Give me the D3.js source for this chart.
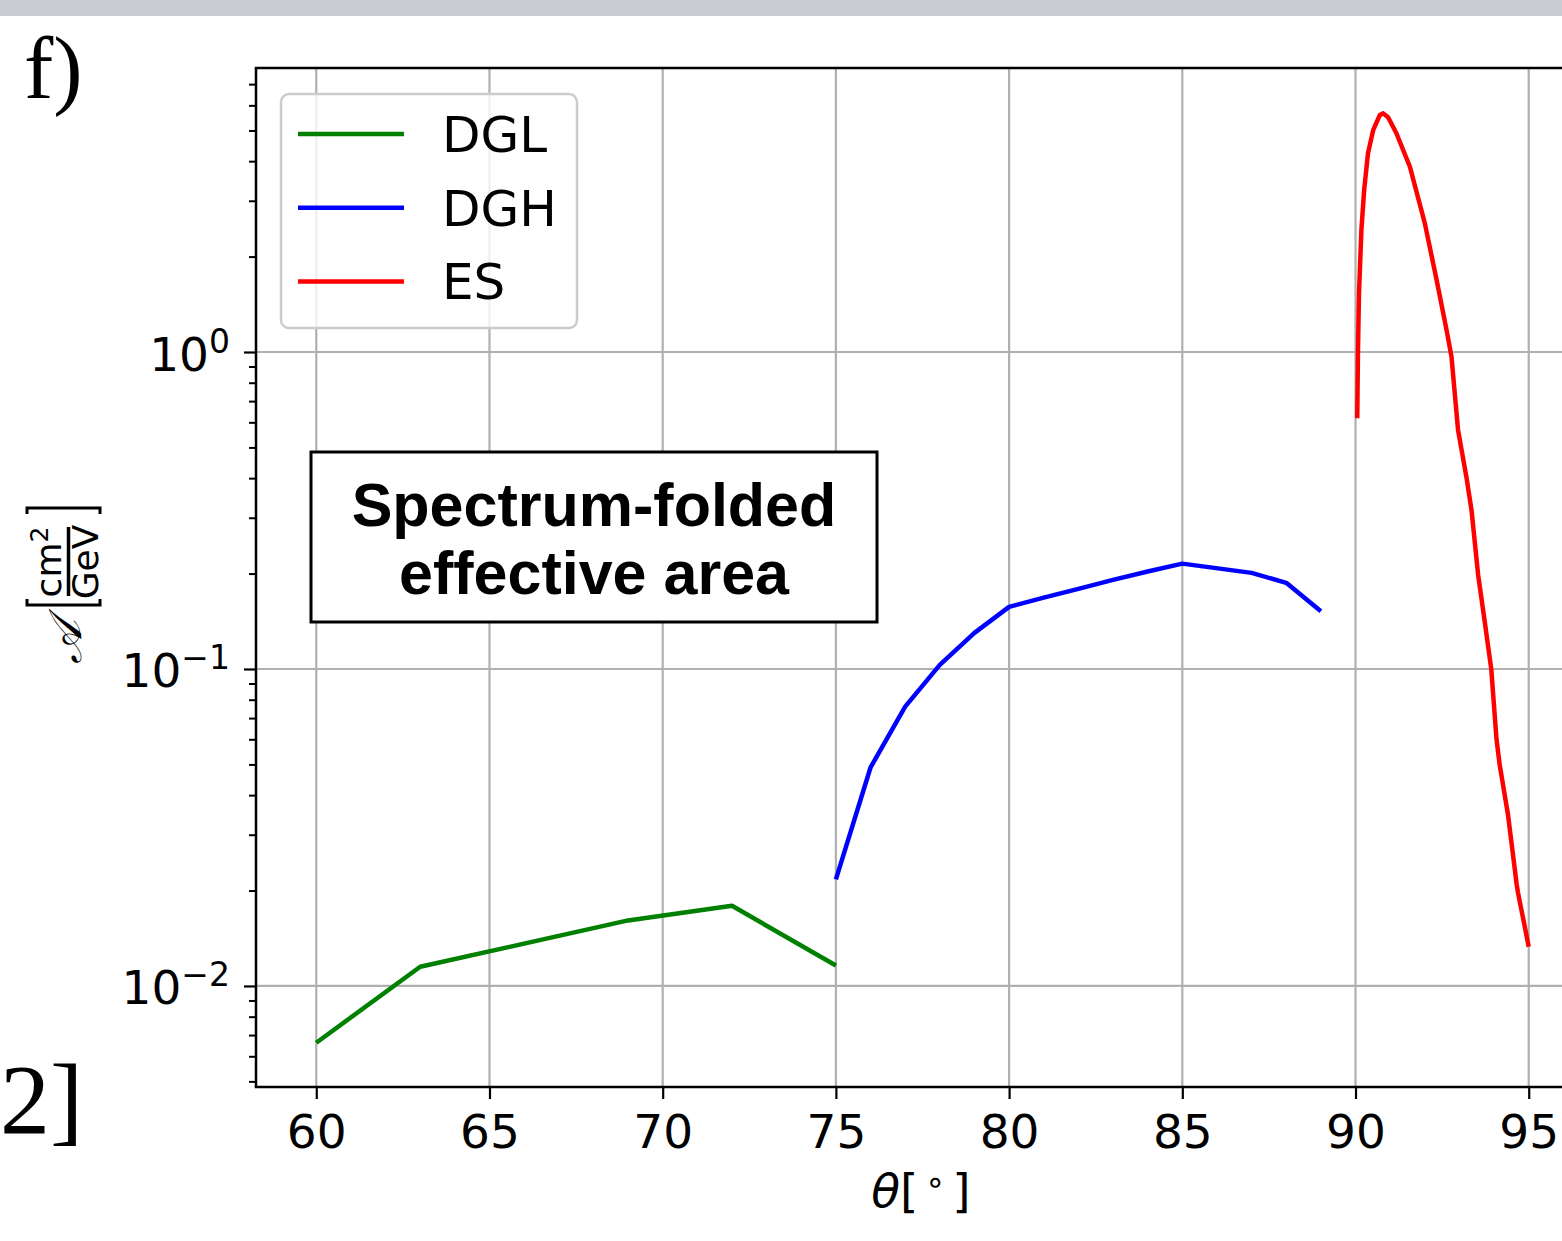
<!DOCTYPE html>
<html lang="en">
<head>
  <meta charset="UTF-8">
  <title>Spectrum-folded effective area</title>
  <script src="https://d3js.org/d3.v7.min.js"></script>
  <style>
    body { margin: 0; background: #fff; }
    svg { display: block; }
    .tick text { font-family: "DejaVu Sans", sans-serif; }
    .grid line { stroke: #b0b0b0; stroke-width: 2.2; }
  </style>
</head>
<body>
  <svg width="1562" height="1241"></svg>
  <script>
    // theta in degrees, effective area in cm^2/GeV
    const dglTheta = [60, 63, 66, 69, 72, 75];
    const dglArea  = [0.00662, 0.0115, 0.0136, 0.0161, 0.0179, 0.0116];

    const dghTheta = [75, 76, 77, 78, 79, 80, 81, 82, 83, 84, 85, 87, 88, 89];
    const dghArea  = [0.0217, 0.0489, 0.0761, 0.103, 0.130, 0.157, 0.168, 0.179, 0.191, 0.203, 0.215, 0.201, 0.187, 0.152];

    const esTheta = [90.05, 90.07, 90.10, 90.17, 90.25, 90.36, 90.51, 90.70, 90.80, 90.94, 91.18, 91.57, 92.0,
                     92.34, 92.63, 92.77, 92.96, 93.20, 93.35, 93.54, 93.73, 93.92, 94.07, 94.16, 94.40, 94.65, 94.69, 95.0];
    const esArea  = [0.618, 0.993, 1.53, 2.43, 3.25, 4.24, 5.01, 5.59, 5.66, 5.50, 4.90, 3.84, 2.55,
                     1.69, 1.17, 0.967, 0.567, 0.404, 0.316, 0.198, 0.141, 0.0996, 0.060, 0.050, 0.0348, 0.0210, 0.0197, 0.0133];

    const seriesNames  = ["DGL", "DGH", "ES"];
    const seriesColors = ["#008000", "#0000ff", "#ff0000"];
    const xTicks = [60, 65, 70, 75, 80, 85, 90, 95];
    const yTicks = [1e-2, 1e-1, 1e0];
    const yTickExp = ["\u22122", "\u22121", "0"];

    const series = [
      { name: seriesNames[0], color: seriesColors[0], pts: dglTheta.map((t, i) => [t, dglArea[i]]) },
      { name: seriesNames[1], color: seriesColors[1], pts: dghTheta.map((t, i) => [t, dghArea[i]]) },
      { name: seriesNames[2], color: seriesColors[2], pts: esTheta.map((t, i) => [t, esArea[i]]) }
    ];

    const svg = d3.select("svg");
    const plotL = 256, plotT = 68, plotB = 1087, plotR = 1589;

    const x = d3.scaleLinear().domain([58.26, 96.74]).range([plotL, plotR]);
    const y = d3.scaleLog().domain([0.0048, 7.87]).range([plotB, plotT]);

    // top grey strip
    svg.append("rect").attr("x", 0).attr("y", 0).attr("width", 1562).attr("height", 16).attr("fill", "#c9cdd1");

    // grid
    const grid = svg.append("g").attr("class", "grid");
    grid.selectAll(".gx").data(xTicks).enter().append("line")
      .attr("x1", d => x(d)).attr("x2", d => x(d)).attr("y1", plotT).attr("y2", plotB);
    grid.selectAll(".gy").data(yTicks).enter().append("line")
      .attr("x1", plotL).attr("x2", plotR).attr("y1", d => y(d)).attr("y2", d => y(d));

    // lines
    const line = d3.line().x(d => x(d[0])).y(d => y(d[1]));
    svg.append("g").selectAll("path").data(series).enter().append("path")
      .attr("d", d => line(d.pts))
      .attr("fill", "none")
      .attr("stroke", d => d.color)
      .attr("stroke-width", 4.5)
      .attr("stroke-linejoin", "round");

    // axes
    const xAxis = svg.append("g").attr("transform", `translate(0,${plotB})`)
      .call(d3.axisBottom(x).tickValues(xTicks).tickSize(12).tickPadding(16).tickFormat(d3.format("d")));
    xAxis.selectAll("text").attr("font-size", 47).attr("fill", "#000");
    xAxis.selectAll("line").attr("stroke-width", 2.2);

    const minor = [];
    [0.001, 0.01, 0.1, 1].forEach(dec => {
      for (let k = 2; k <= 9; k++) {
        const v = dec * k;
        if (v > 0.0048 && v < 7.87) minor.push(v);
      }
    });
    const yMinor = svg.append("g").attr("transform", `translate(${plotL},0)`)
      .call(d3.axisLeft(y).tickValues(minor).tickSize(7).tickFormat(""));
    yMinor.selectAll("line").attr("stroke-width", 2);

    const yAxis = svg.append("g").attr("transform", `translate(${plotL},0)`)
      .call(d3.axisLeft(y).tickValues(yTicks).tickSize(12).tickPadding(10).tickFormat(""));
    yAxis.selectAll("line").attr("stroke-width", 2.2);
    yAxis.selectAll(".tick").each(function (d, i) {
      const t = d3.select(this).append("text")
        .attr("x", -26).attr("dy", 0).attr("y", 18)
        .attr("text-anchor", "end")
        .attr("font-size", 47).attr("fill", "#000")
        .attr("font-family", "DejaVu Sans");
      t.append("tspan").text("10");
      t.append("tspan").attr("dy", -18).attr("font-size", 33).text(yTickExp[i]);
    });
    svg.selectAll(".domain").remove();

    // spines
    const sp = svg.append("g").attr("stroke", "#000").attr("stroke-width", 2.5).attr("fill", "none");
    sp.append("line").attr("x1", plotL).attr("x2", plotL).attr("y1", plotT).attr("y2", plotB);
    sp.append("line").attr("x1", plotL - 1.25).attr("x2", plotR).attr("y1", plotB).attr("y2", plotB);
    sp.append("line").attr("x1", plotL - 1.25).attr("x2", plotR).attr("y1", plotT).attr("y2", plotT);
    sp.append("line").attr("x1", plotR).attr("x2", plotR).attr("y1", plotT).attr("y2", plotB);

    // x label
    const xl = svg.append("text").attr("x", 921).attr("y", 1207).attr("text-anchor", "middle")
      .attr("font-family", "DejaVu Sans").attr("font-size", 47).attr("fill", "#000");
    xl.append("tspan").attr("font-style", "italic").text("\u03b8");
    xl.append("tspan").text("[");
    xl.append("tspan").attr("dy", -14).attr("font-size", 33).text("\u2009\u2218\u2009");
    xl.append("tspan").attr("dy", 14).text("]");

    // y label (rotated)
    const yl = svg.append("g").attr("transform", "translate(63,582) rotate(-90)");
    yl.append("text").attr("x", -38).attr("y", 18).attr("text-anchor", "end")
      .attr("font-family", "DejaVu Serif, serif").attr("font-style", "italic").attr("font-size", 46)
      .attr("fill", "#000").text("\ud835\udc9c");
    const br = yl.append("g").attr("stroke", "#000").attr("stroke-width", 3).attr("fill", "none");
    br.append("path").attr("d", "M-17,-36 L-23,-36 L-23,37 L-17,37");
    br.append("path").attr("d", "M68,-36 L74,-36 L74,37 L68,37");
    yl.append("line").attr("x1", -14).attr("x2", 55).attr("y1", 5.5).attr("y2", 5.5)
      .attr("stroke", "#000").attr("stroke-width", 3.5);
    const num = yl.append("text").attr("x", 20).attr("y", -2).attr("text-anchor", "middle")
      .attr("font-family", "DejaVu Sans").attr("font-size", 36).attr("fill", "#000");
    num.append("tspan").text("cm");
    num.append("tspan").attr("dy", -13).attr("font-size", 25).text("2");
    yl.append("text").attr("x", 20).attr("y", 35).attr("text-anchor", "middle")
      .attr("font-family", "DejaVu Sans").attr("font-size", 36).attr("fill", "#000").text("GeV");

    // legend
    const lg = svg.append("g");
    lg.append("rect").attr("x", 281).attr("y", 94).attr("width", 296).attr("height", 234).attr("rx", 8)
      .attr("fill", "#fff").attr("fill-opacity", 0.8).attr("stroke", "#cccccc").attr("stroke-width", 2.5);
    series.forEach((s, i) => {
      const yy = 134 + i * 73.7;
      lg.append("line").attr("x1", 298).attr("x2", 404).attr("y1", yy).attr("y2", yy)
        .attr("stroke", s.color).attr("stroke-width", 4.5);
      lg.append("text").attr("x", 442).attr("y", yy + 18)
        .attr("font-family", "DejaVu Sans").attr("font-size", 50).attr("fill", "#000").text(s.name);
    });

    // annotation box
    svg.append("rect").attr("x", 311).attr("y", 452).attr("width", 566).attr("height", 170)
      .attr("fill", "#fff").attr("stroke", "#000").attr("stroke-width", 3);
    const ann = svg.append("text").attr("text-anchor", "middle")
      .attr("font-family", "Liberation Sans, Arial, sans-serif").attr("font-weight", "bold")
      .attr("font-size", 61).attr("fill", "#000");
    ann.append("tspan").attr("x", 594).attr("y", 526).text("Spectrum-folded");
    ann.append("tspan").attr("x", 594).attr("y", 594).text("effective area");

    // panel letters from the surrounding document
    svg.append("text").attr("x", 24).attr("y", 98).attr("font-family", "Liberation Serif, serif")
      .attr("font-size", 88).attr("fill", "#000").text("f)");
    svg.append("text").attr("x", 0).attr("y", 1133).attr("font-family", "Liberation Serif, serif")
      .attr("font-size", 100).attr("fill", "#000").text("2]");
  </script>
</body>
</html>
